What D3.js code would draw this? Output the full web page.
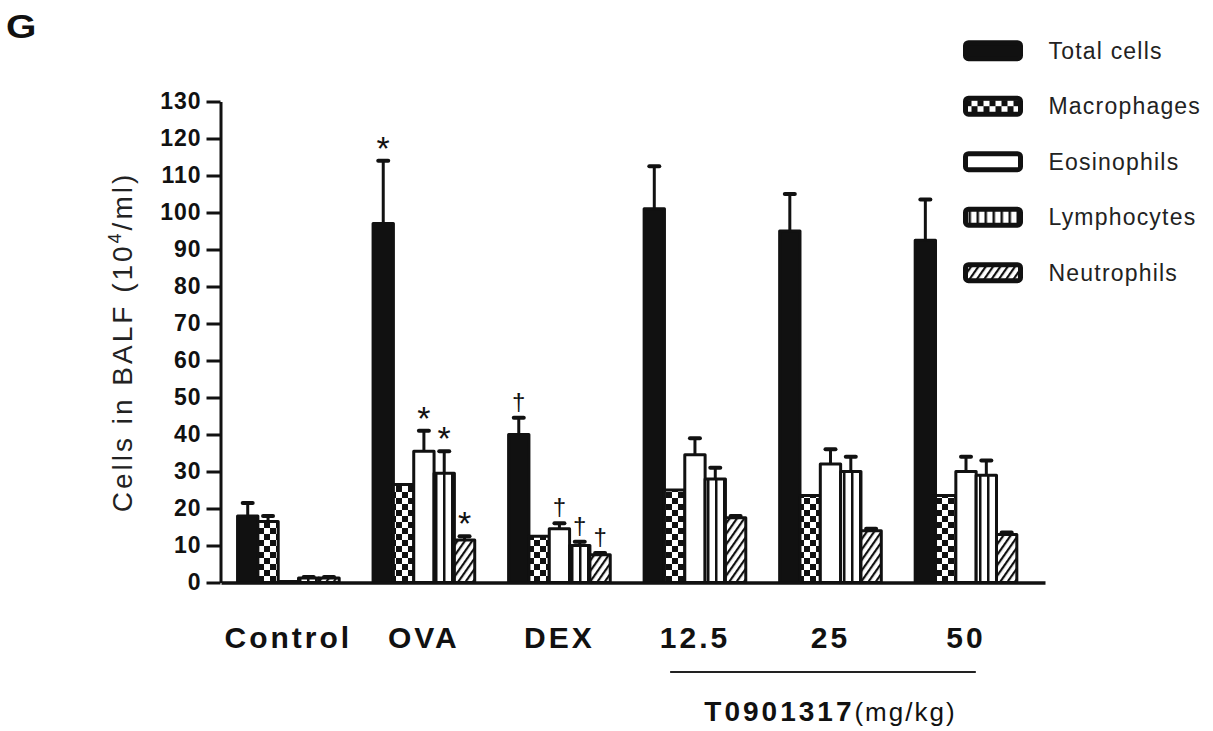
<!DOCTYPE html>
<html>
<head>
<meta charset="utf-8">
<script src="https://cdnjs.cloudflare.com/ajax/libs/d3/7.8.5/d3.min.js"></script>
<style>
  body { margin: 0; background: #fff; }
  svg { display: block; font-family: "Liberation Sans", Arial, sans-serif; }
</style>
</head>
<body>
<svg id="chart" width="1213" height="731"></svg>
<script>
// groups and series
var groups = ['Control', 'OVA', 'DEX', '12.5', '25', '50'];
var seriesNames = ['Total cells', 'Macrophages', 'Eosinophils', 'Lymphocytes', 'Neutrophils'];

// means (10^4/ml)
var totalCells  = [18, 97, 40, 101, 95, 92.5];
var macrophages = [16.5, 26.5, 12.5, 25, 23.5, 23.5];
var eosinophils = [0.3, 35.5, 14.5, 34.5, 32, 30];
var lymphocytes = [1.2, 29.5, 10, 28, 30, 29];
var neutrophils = [1.2, 11.5, 7.5, 17.5, 14, 13];

// error bars (upper only)
var totalErr = [3.5, 17, 4.5, 11.5, 10, 11];
var macroErr = [1.5, 0, 0, 0, 0, 0];
var eosErr   = [0, 5.5, 1.5, 4.5, 4, 4];
var lymphErr = [0.3, 6, 1, 3, 4, 4];
var neutErr  = [0.3, 1, 0.5, 0.5, 0.5, 0.5];

var yTicks = [0, 10, 20, 30, 40, 50, 60, 70, 80, 90, 100, 110, 120, 130];

// significance marks
var sigGroups  = ['OVA', 'OVA', 'OVA', 'OVA', 'DEX', 'DEX', 'DEX', 'DEX'];
var sigSeries  = ['Total cells', 'Eosinophils', 'Lymphocytes', 'Neutrophils', 'Total cells', 'Eosinophils', 'Lymphocytes', 'Neutrophils'];
var sigSymbols = ['*', '*', '*', '*', '\u2020', '\u2020', '\u2020', '\u2020'];

var values = [totalCells, macrophages, eosinophils, lymphocytes, neutrophils];
var errors = [totalErr, macroErr, eosErr, lymphErr, neutErr];
var fills = ['#111', 'url(#checker)', '#fff', 'url(#vlines)', 'url(#hatch)'];

var svg = d3.select('#chart');

// patterns
var defs = svg.append('defs');
var p1 = defs.append('pattern').attr('id', 'checker').attr('patternUnits', 'userSpaceOnUse')
  .attr('width', 12).attr('height', 12);
p1.append('rect').attr('width', 12).attr('height', 12).attr('fill', '#111');
p1.append('rect').attr('width', 6).attr('height', 6).attr('fill', '#fff');
p1.append('rect').attr('x', 6).attr('y', 6).attr('width', 6).attr('height', 6).attr('fill', '#fff');

var p2 = defs.append('pattern').attr('id', 'vlines').attr('patternUnits', 'userSpaceOnUse')
  .attr('width', 8).attr('height', 8);
p2.append('rect').attr('width', 8).attr('height', 8).attr('fill', '#fff');
p2.append('rect').attr('x', 3).attr('width', 2.5).attr('height', 8).attr('fill', '#111');

var p3 = defs.append('pattern').attr('id', 'hatch').attr('patternUnits', 'userSpaceOnUse')
  .attr('width', 6).attr('height', 6).attr('patternTransform', 'rotate(35)');
p3.append('rect').attr('width', 6).attr('height', 6).attr('fill', '#fff');
p3.append('rect').attr('width', 2.2).attr('height', 6).attr('fill', '#111');

// scales
var x = d3.scaleBand().domain(groups).range([221, 1045])
  .paddingInner(0.25).paddingOuter(0.165).align(0.37);
var xs = d3.scaleBand().domain(seriesNames).range([0, x.bandwidth()]);
var y = d3.scaleLinear().domain([0, 130]).range([582.5, 101.5]);

// y axis
var yAxis = d3.axisLeft(y).tickValues(yTicks).tickSize(14).tickSizeOuter(0).tickPadding(5);
var gy = svg.append('g').attr('class', 'y axis')
  .attr('transform', 'translate(220.5,0)')
  .call(yAxis);
gy.select('.domain').attr('stroke', '#111').attr('stroke-width', 3);
gy.selectAll('.tick line').attr('stroke', '#111').attr('stroke-width', 3);
gy.selectAll('.tick text').attr('font-size', 23).attr('font-weight', 'bold')
  .attr('fill', '#111').attr('letter-spacing', 1)
  .attr('font-family', '"Liberation Sans", Arial, sans-serif');

// bars
var bars = svg.append('g');
seriesNames.forEach(function(s, si) {
  bars.selectAll('.bar-' + si)
    .data(groups)
    .enter().append('rect')
    .attr('class', 'bar-' + si)
    .attr('x', function(g) { return x(g) + xs(s); })
    .attr('y', function(g, i) { return y(values[si][i]); })
    .attr('width', xs.bandwidth())
    .attr('height', function(g, i) { return y(0) - y(values[si][i]); })
    .attr('fill', fills[si])
    .attr('stroke', '#111')
    .attr('stroke-width', 3)
    .attr('stroke-linejoin', 'round');
});

// error bars
var errG = svg.append('g');
seriesNames.forEach(function(s, si) {
  groups.forEach(function(g, i) {
    if (errors[si][i] <= 0) return;
    var cx = x(g) + xs(s) + xs.bandwidth() / 2;
    var top = y(values[si][i] + errors[si][i]);
    errG.append('line')
      .attr('x1', cx).attr('x2', cx)
      .attr('y1', y(values[si][i])).attr('y2', top)
      .attr('stroke', '#111').attr('stroke-width', 3);
    errG.append('rect')
      .attr('x', cx - 7).attr('y', top - 2)
      .attr('width', 14).attr('height', 4).attr('rx', 2)
      .attr('fill', '#111');
  });
});

// significance symbols
sigGroups.forEach(function(g, k) {
  var si = seriesNames.indexOf(sigSeries[k]);
  var i = groups.indexOf(g);
  var cx = x(g) + xs(sigSeries[k]) + xs.bandwidth() / 2;
  var top = y(values[si][i] + errors[si][i]);
  var isStar = sigSymbols[k] === '*';
  svg.append('text')
    .attr('x', cx)
    .attr('y', isStar ? top - 1 : top - 8)
    .attr('text-anchor', 'middle')
    .attr('font-size', isStar ? 34 : 24)
    .attr('fill', '#111')
    .text(sigSymbols[k]);
});

// x axis
var xAxis = d3.axisBottom(x).tickSize(0).tickSizeOuter(0).tickPadding(44);
var gx = svg.append('g').attr('class', 'x axis')
  .attr('transform', 'translate(0,' + y(0) + ')')
  .call(xAxis);
gx.select('.domain').attr('stroke', '#111').attr('stroke-width', 3.5);
gx.selectAll('.tick text').attr('font-size', 30).attr('font-weight', 'bold')
  .attr('fill', '#111').attr('letter-spacing', 3)
  .attr('font-family', '"Liberation Sans", Arial, sans-serif');

// T0901317 bracket
svg.append('line')
  .attr('x1', x('12.5') + 26).attr('x2', x('50') + x.bandwidth() - 41)
  .attr('y1', 672).attr('y2', 672)
  .attr('stroke', '#222').attr('stroke-width', 2);
var tt = svg.append('text')
  .attr('x', x('25') + x.bandwidth() / 2)
  .attr('y', 721)
  .attr('text-anchor', 'middle')
  .attr('fill', '#111');
tt.append('tspan').attr('font-size', 28).attr('font-weight', 'bold').attr('letter-spacing', 3).text('T0901317');
tt.append('tspan').attr('font-size', 26).attr('letter-spacing', 2).text('(mg/kg)');

// y title
var yt = svg.append('text')
  .attr('transform', 'translate(132,342) rotate(-90)')
  .attr('text-anchor', 'middle')
  .attr('font-size', 28)
  .attr('letter-spacing', 3)
  .attr('fill', '#222');
yt.append('tspan').text('Cells in BALF (10');
yt.append('tspan').attr('font-size', 18).attr('dy', -11).text('4');
yt.append('tspan').attr('dy', 11).text('/ml)');

// panel letter
svg.append('text')
  .attr('transform', 'translate(6,38) scale(1.15,1)')
  .attr('font-size', 34).attr('font-weight', 'bold')
  .attr('fill', '#111')
  .text('G');

// legend
var legend = svg.append('g').selectAll('g')
  .data(seriesNames)
  .enter().append('g')
  .attr('transform', function(d, i) { return 'translate(965.5,' + (50.7 + i * 55.5) + ')'; });
legend.append('rect')
  .attr('x', 0).attr('y', -8)
  .attr('width', 55).attr('height', 16).attr('rx', 3)
  .attr('fill', function(d, i) { return fills[i]; })
  .attr('stroke', '#111').attr('stroke-width', 5);
legend.append('text')
  .attr('x', 83).attr('y', 0)
  .attr('dy', '0.35em')
  .attr('font-size', 23)
  .attr('letter-spacing', 1.2)
  .attr('fill', '#222')
  .text(function(d) { return d; });
</script>
</body>
</html>
